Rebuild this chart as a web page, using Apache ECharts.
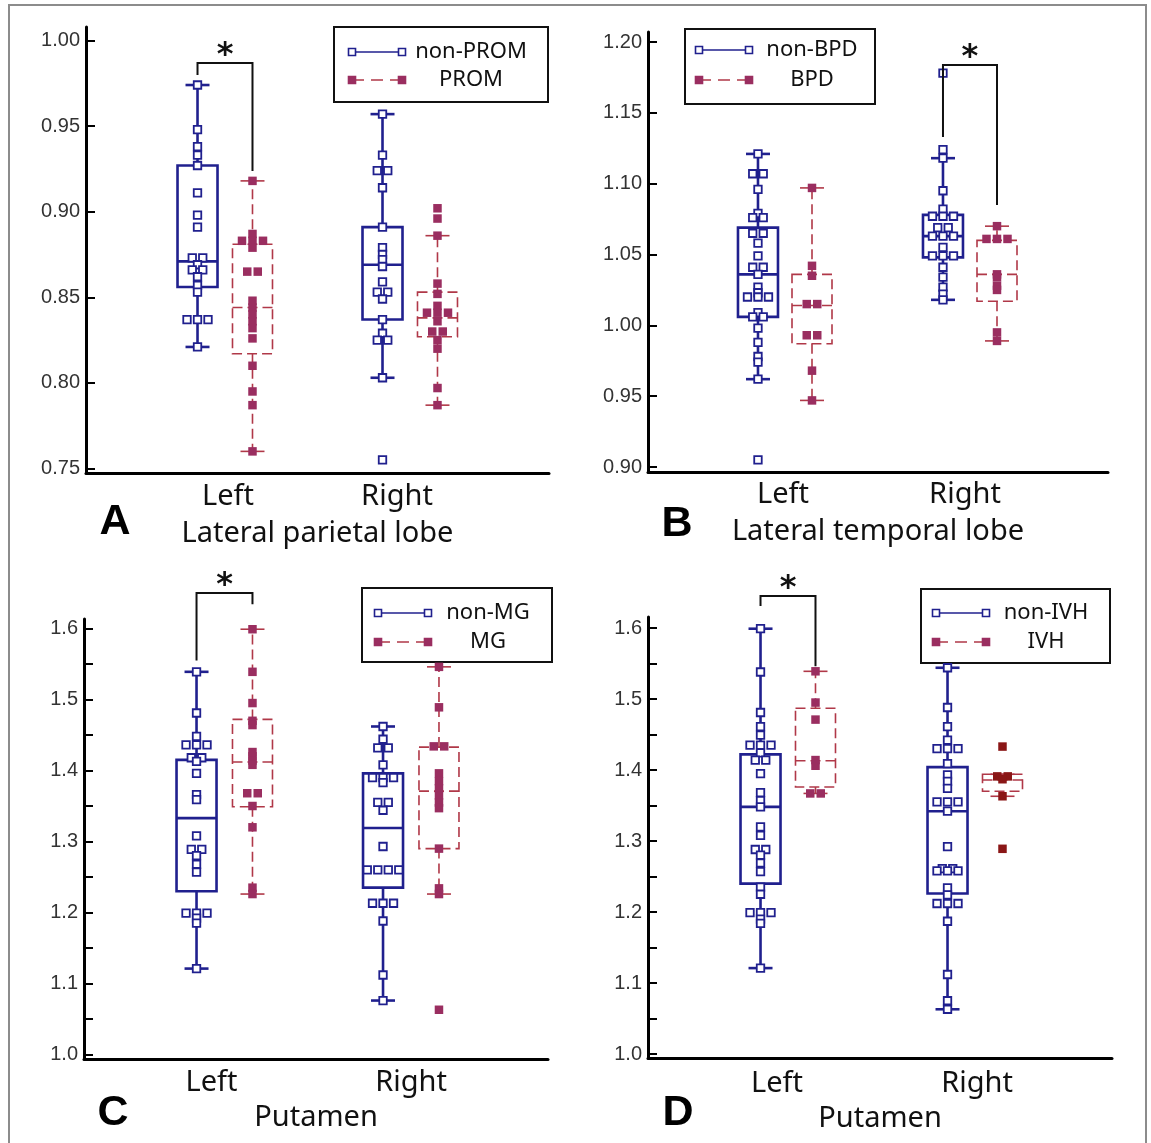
<!DOCTYPE html>
<html><head><meta charset="utf-8">
<script src="https://cdn.jsdelivr.net/npm/echarts@6/dist/echarts.min.js"></script>
<style>html,body{margin:0;padding:0;background:#fff}#chart{width:1151px;height:1143px}</style>
</head><body><div id="chart"></div>
<script>
// ---------------- DATA ----------------
const categories = ['Left', 'Right'];

// Panel A : Lateral parietal lobe
const A_names = ['non-PROM', 'PROM'];
const A_title = 'Lateral parietal lobe';
const A_yTicks = [0.75, 0.80, 0.85, 0.90, 0.95, 1.00];
const A_yMinor = [];
// box = [lower whisker, Q1, median, Q3, upper whisker]  for [Left, Right]
const A_box_non = [[0.821, 0.856, 0.871, 0.927, 0.974], [0.803, 0.837, 0.869, 0.891, 0.957]];
const A_box_grp = [[0.760, 0.817, 0.844, 0.881, 0.918], [0.787, 0.827, 0.838, 0.853, 0.886]];
const A_pts_non_L = [0.974, 0.948, 0.938, 0.933, 0.927, 0.911, 0.898, 0.891, 0.873, 0.873, 0.869, 0.866, 0.866, 0.862, 0.857, 0.853, 0.837, 0.837, 0.837, 0.821];
const A_pts_grp_L = [0.918, 0.887, 0.883, 0.883, 0.883, 0.879, 0.865, 0.865, 0.848, 0.844, 0.840, 0.836, 0.832, 0.826, 0.810, 0.795, 0.787, 0.760];
const A_pts_non_R = [0.957, 0.933, 0.924, 0.924, 0.914, 0.891, 0.879, 0.875, 0.872, 0.868, 0.859, 0.853, 0.853, 0.849, 0.837, 0.829, 0.825, 0.825, 0.803, 0.755];
const A_pts_grp_R = [0.902, 0.896, 0.886, 0.858, 0.852, 0.845, 0.841, 0.841, 0.841, 0.836, 0.830, 0.830, 0.825, 0.820, 0.797, 0.787];
// significance bracket: [category, top, left-leg bottom, right-leg bottom]
const A_sig = [1, 0.9869, 0.9799, 0.9238];

// Panel B : Lateral temporal lobe
const B_names = ['non-BPD', 'BPD'];
const B_title = 'Lateral temporal lobe';
const B_yTicks = [0.90, 0.95, 1.00, 1.05, 1.10, 1.15, 1.20];
const B_yMinor = [];
const B_box_non = [[0.962, 1.006, 1.036, 1.069, 1.121], [1.018, 1.048, 1.063, 1.078, 1.118]];
const B_box_grp = [[0.947, 0.987, 1.014, 1.036, 1.097], [0.989, 1.017, 1.036, 1.060, 1.070]];
const B_pts_non_L = [1.121, 1.107, 1.107, 1.096, 1.079, 1.076, 1.076, 1.065, 1.065, 1.058, 1.049, 1.041, 1.041, 1.036, 1.027, 1.023, 1.020, 1.020, 1.020, 1.009, 1.006, 1.006, 0.998, 0.988, 0.978, 0.974, 0.962, 0.905];
const B_pts_grp_L = [1.097, 1.042, 1.035, 1.015, 1.015, 0.993, 0.993, 0.968, 0.947];
const B_pts_non_R = [1.178, 1.124, 1.118, 1.095, 1.082, 1.077, 1.077, 1.077, 1.069, 1.069, 1.063, 1.063, 1.063, 1.055, 1.049, 1.049, 1.049, 1.041, 1.034, 1.027, 1.022, 1.018];
const B_pts_grp_R = [1.070, 1.061, 1.061, 1.061, 1.036, 1.034, 1.028, 1.025, 0.995, 0.989];
const B_sig = [2, 1.1838, 1.133, 1.085];

// Panel C : Putamen (MG)
const C_names = ['non-MG', 'MG'];
const C_title = 'Putamen';
const C_yTicks = [1.0, 1.1, 1.2, 1.3, 1.4, 1.5, 1.6];
const C_yMinor = [1.05, 1.15, 1.25, 1.35, 1.45, 1.55];
const C_box_non = [[1.121, 1.230, 1.333, 1.415, 1.539], [1.076, 1.235, 1.319, 1.396, 1.462]];
const C_box_grp = [[1.226, 1.349, 1.412, 1.472, 1.599], [1.226, 1.290, 1.371, 1.433, 1.546]];
const C_pts_non_L = [1.539, 1.481, 1.448, 1.436, 1.436, 1.436, 1.418, 1.418, 1.413, 1.396, 1.366, 1.359, 1.308, 1.289, 1.289, 1.280, 1.268, 1.257, 1.199, 1.199, 1.199, 1.192, 1.185, 1.121];
const C_pts_grp_L = [1.599, 1.539, 1.495, 1.470, 1.464, 1.426, 1.420, 1.414, 1.408, 1.368, 1.368, 1.350, 1.320, 1.235, 1.226];
const C_pts_non_R = [1.462, 1.444, 1.432, 1.432, 1.408, 1.390, 1.390, 1.390, 1.383, 1.355, 1.355, 1.344, 1.293, 1.260, 1.260, 1.260, 1.260, 1.213, 1.213, 1.213, 1.188, 1.112, 1.076];
const C_pts_grp_R = [1.546, 1.489, 1.434, 1.434, 1.396, 1.385, 1.375, 1.365, 1.355, 1.347, 1.290, 1.234, 1.226, 1.063];
const C_sig = [1, 1.650, 1.555, 1.634];

// Panel D : Putamen (IVH)
const D_names = ['non-IVH', 'IVH'];
const D_title = 'Putamen';
const D_yTicks = [1.0, 1.1, 1.2, 1.3, 1.4, 1.5, 1.6];
const D_yMinor = [1.05, 1.15, 1.25, 1.35, 1.45, 1.55];
const D_box_non = [[1.121, 1.240, 1.348, 1.422, 1.599], [1.063, 1.226, 1.342, 1.404, 1.544]];
const D_box_grp = [[1.367, 1.376, 1.413, 1.487, 1.539], [1.363, 1.370, 1.386, 1.394, 1.394]];
const D_pts_non_L = [1.599, 1.538, 1.481, 1.461, 1.449, 1.435, 1.435, 1.435, 1.424, 1.414, 1.414, 1.395, 1.368, 1.357, 1.348, 1.320, 1.308, 1.288, 1.288, 1.280, 1.269, 1.257, 1.235, 1.225, 1.199, 1.199, 1.199, 1.190, 1.184, 1.121];
const D_pts_grp_L = [1.539, 1.495, 1.471, 1.414, 1.406, 1.367, 1.367];
const D_pts_non_R = [1.544, 1.488, 1.461, 1.442, 1.430, 1.430, 1.430, 1.409, 1.393, 1.384, 1.374, 1.355, 1.355, 1.355, 1.342, 1.292, 1.261, 1.261, 1.258, 1.258, 1.258, 1.234, 1.224, 1.212, 1.212, 1.212, 1.187, 1.112, 1.075, 1.063];
const D_pts_grp_R = [1.433, 1.391, 1.391, 1.387, 1.363, 1.289];
const D_sig = [1, 1.645, 1.631, 1.546];

// ---------------- STYLE / LAYOUT ----------------
const BLUE = '#20208e';
const RED_PT = '#9a2e60';
const RED_LN = '#b03848';
const DARK_RED = '#8a1616';
const SPACING = 10.5;

const panels = [
  {letter: 'A', title: A_title, names: A_names, yTicks: A_yTicks, yMinor: A_yMinor, digits: 2,
   boxes: [A_box_non, A_box_grp], pts: [[A_pts_non_L, A_pts_non_R], [A_pts_grp_L, A_pts_grp_R]], sig: A_sig},
  {letter: 'B', title: B_title, names: B_names, yTicks: B_yTicks, yMinor: B_yMinor, digits: 2,
   boxes: [B_box_non, B_box_grp], pts: [[B_pts_non_L, B_pts_non_R], [B_pts_grp_L, B_pts_grp_R]], sig: B_sig},
  {letter: 'C', title: C_title, names: C_names, yTicks: C_yTicks, yMinor: C_yMinor, digits: 1,
   boxes: [C_box_non, C_box_grp], pts: [[C_pts_non_L, C_pts_non_R], [C_pts_grp_L, C_pts_grp_R]], sig: C_sig},
  {letter: 'D', title: D_title, names: D_names, yTicks: D_yTicks, yMinor: D_yMinor, digits: 1,
   boxes: [D_box_non, D_box_grp], pts: [[D_pts_non_L, D_pts_non_R], [D_pts_grp_L, D_pts_grp_R]], sig: D_sig,
   darkRight: true}
];

const layout = [
  {grid: {left: 86, top: 27, width: 463, height: 446}, x: [0.2486, 2.7514], y: [0.74737, 1.00789], off: 0.1486,
   legend: {box: [334, 27, 214, 75], lx: [352, 402], rows: [52, 80], tx: 471}, letter: [115, 522],
   labMargin: 9, nameGap: 46, labShift: [3, -13]},
  {grid: {left: 648, top: 32, width: 460, height: 440}, x: [0.2595, 2.746], y: [0.89647, 1.20706], off: 0.146,
   legend: {box: [685, 29, 190, 75], lx: [699, 749], rows: [50, 80], tx: 812}, letter: [677, 524],
   labMargin: 8, nameGap: 45, labShift: [-2, -5]},
  {grid: {left: 84, top: 619, width: 464, height: 440}, x: [0.2466, 2.7346], y: [0.99366, 1.6134], off: 0.150,
   legend: {box: [362, 588, 190, 74], lx: [378, 428], rows: [613, 642], tx: 488}, letter: [113, 1113],
   labMargin: 9, nameGap: 44, labShift: [-13, 0]},
  {grid: {left: 648, top: 617, width: 464, height: 441}, x: [0.2513, 2.7326], y: [0.99437, 1.6155], off: 0.147,
   legend: {box: [921, 589, 189, 74], lx: [936, 986], rows: [613, 642], tx: 1046}, letter: [678, 1113],
   labMargin: 11, nameGap: 46, labShift: [-11, 2]}
];

// ---------------- HELPERS ----------------
function swarmOffsets(vals) {
  const counts = {}, seen = {};
  vals.forEach(v => { counts[v] = (counts[v] || 0) + 1; });
  return vals.map(v => {
    const n = counts[v];
    const k = (seen[v] = (seen[v] || 0) + 1) - 1;
    return (k - (n - 1) / 2) * SPACING;
  });
}

function makeBoxRender(color, dashed, lw) {
  return function (params, api) {
    const x = api.value(0);
    const pLo = api.coord([x, api.value(1)]);
    const pQ1 = api.coord([x, api.value(2)]);
    const pMd = api.coord([x, api.value(3)]);
    const pQ3 = api.coord([x, api.value(4)]);
    const pHi = api.coord([x, api.value(5)]);
    const cx = pLo[0], hw = 20, cw = 12;
    const st = (dash) => ({stroke: color, lineWidth: lw, lineDash: dash ? [10, 5] : null, fill: null});
    const line = (x1, y1, x2, y2, dash) => ({type: 'line', shape: {x1, y1, x2, y2}, style: st(dash)});
    return {type: 'group', children: [
      {type: 'rect', shape: {x: cx - hw, y: pQ3[1], width: 2 * hw, height: pQ1[1] - pQ3[1]},
       style: Object.assign(st(dashed), {fill: 'rgba(0,0,0,0)'})},
      line(cx - hw, pMd[1], cx + hw, pMd[1], dashed),
      line(cx, pQ3[1], cx, pHi[1], dashed),
      line(cx, pQ1[1], cx, pLo[1], dashed),
      line(cx - cw, pHi[1], cx + cw, pHi[1], false),
      line(cx - cw, pLo[1], cx + cw, pLo[1], false)
    ]};
  };
}

function makeSigRender(off) {
  return function (params, api) {
    const c = api.value(0);
    const pTop = api.coord([c - off, api.value(1)]);
    const pL = api.coord([c - off, api.value(2)]);
    const pR = api.coord([c + off, api.value(3)]);
    const xL = pTop[0], xR = pR[0], yT = pTop[1];
    return {type: 'group', children: [
      {type: 'polyline', shape: {points: [[xL, pL[1]], [xL, yT], [xR, yT], [xR, pR[1]]]},
       style: {stroke: '#111', lineWidth: 2, fill: null}},
      {type: 'text', style: {text: '*', x: (xL + xR) / 2, y: yT - 7, align: 'center', verticalAlign: 'middle',
        textAlign: 'center', textVerticalAlign: 'middle', font: 'bold 32px "DejaVu Sans"', fill: '#111'}}
    ]};
  };
}

// ---------------- BUILD OPTION ----------------
const grids = [], xAxes = [], yAxes = [], series = [], graphics = [];

graphics.push({type: 'rect', z: 0, silent: true, shape: {x: 9, y: 5, width: 1137, height: 1160},
  style: {fill: null, stroke: '#8c8c8c', lineWidth: 2}});

panels.forEach((p, i) => {
  const L = layout[i];
  grids.push(L.grid);
  const rich = {};
  categories.forEach((cat, c) => {
    const s = L.labShift[c];
    rich['c' + c] = {fontSize: 29, color: '#111', fontFamily: 'Noto Sans',
      padding: [0, s < 0 ? -2 * s : 0, 0, s > 0 ? 2 * s : 0]};
  });
  xAxes.push({
    gridIndex: i, type: 'value', min: L.x[0], max: L.x[1],
    axisLine: {show: true, onZero: false, lineStyle: {color: '#000', width: 3}},
    axisTick: {show: false}, splitLine: {show: false},
    axisLabel: {customValues: [1, 2], formatter: v => {
        const c = Math.round(v) - 1;
        return categories[c] ? '{c' + c + '|' + categories[c] + '}' : '';
      },
      rich: rich, fontSize: 29, color: '#111', margin: L.labMargin, fontFamily: 'Noto Sans'},
    name: p.title, nameLocation: 'middle', nameGap: L.nameGap,
    nameTextStyle: {fontSize: 29, color: '#111', fontFamily: 'Noto Sans'}
  });
  yAxes.push({
    gridIndex: i, type: 'value', min: L.y[0], max: L.y[1],
    axisLine: {show: true, onZero: false, lineStyle: {color: '#000', width: 3}},
    axisTick: {show: true, inside: true, length: 9, lineStyle: {color: '#000', width: 2},
      customValues: p.yTicks.concat(p.yMinor)},
    axisLabel: {customValues: p.yTicks, formatter: v => v.toFixed(p.digits),
      fontSize: 20, color: '#333', margin: 6, fontFamily: 'Liberation Sans'},
    splitLine: {show: false}
  });

  [0, 1].forEach(g => {
    const sign = g === 0 ? -1 : 1;
    const boxData = p.boxes[g].map((b, c) => [c + 1 + sign * L.off].concat(b));
    series.push({
      type: 'custom', name: p.names[g], xAxisIndex: i, yAxisIndex: i, z: 2, clip: false,
      renderItem: makeBoxRender(g === 0 ? BLUE : RED_LN, g === 1, g === 0 ? 2.6 : 1.6),
      data: boxData, silent: true
    });
  });
  [0, 1].forEach(g => {
    const sign = g === 0 ? -1 : 1;
    const data = [];
    p.pts[g].forEach((vals, c) => {
      const offs = swarmOffsets(vals);
      vals.forEach((v, k) => {
        const item = {value: [c + 1 + sign * L.off, v], symbolOffset: [offs[k], 0]};
        if (g === 1 && c === 1 && p.darkRight) item.itemStyle = {color: DARK_RED};
        data.push(item);
      });
    });
    series.push({
      type: 'scatter', name: p.names[g], xAxisIndex: i, yAxisIndex: i, z: 3, clip: false,
      symbol: 'rect', symbolSize: g === 0 ? 7.5 : 8.5,
      itemStyle: g === 0 ? {color: '#fff', borderColor: BLUE, borderWidth: 1.8, opacity: 1}
                         : {color: RED_PT, opacity: 1},
      data: data, silent: true
    });
  });
  series.push({
    type: 'custom', name: 'sig-' + p.letter, xAxisIndex: i, yAxisIndex: i, z: 4, clip: false,
    renderItem: makeSigRender(L.off), data: [p.sig], silent: true
  });

  // panel letter
  graphics.push({type: 'text', z: 50, style: {text: p.letter, x: L.letter[0], y: L.letter[1],
    align: 'center', verticalAlign: 'middle', textAlign: 'center', textVerticalAlign: 'middle',
    font: 'bold 43px "Liberation Sans"', fill: '#000'}});

  // legend box
  const lg = L.legend, [bx, by, bw, bh] = lg.box;
  const sq = (x, y, filled, col) => ({type: 'rect', shape: {x: x - 3.5, y: y - 3.5, width: 7, height: 7},
    style: {fill: filled ? col : '#fff', stroke: col, lineWidth: 1.6}});
  const txt = (t, y) => ({type: 'text', style: {text: t, x: lg.tx, y: y, align: 'center', verticalAlign: 'middle',
    textAlign: 'center', textVerticalAlign: 'middle', font: '22px "Noto Sans"', fill: '#111'}});
  graphics.push({type: 'group', z: 100, children: [
    {type: 'rect', shape: {x: bx, y: by, width: bw, height: bh}, style: {fill: '#fff', stroke: '#111', lineWidth: 2}},
    {type: 'line', shape: {x1: lg.lx[0], y1: lg.rows[0], x2: lg.lx[1], y2: lg.rows[0]}, style: {stroke: BLUE, lineWidth: 1.6}},
    sq(lg.lx[0], lg.rows[0], false, BLUE), sq(lg.lx[1], lg.rows[0], false, BLUE),
    txt(p.names[0], lg.rows[0]),
    {type: 'line', shape: {x1: lg.lx[0], y1: lg.rows[1], x2: lg.lx[1], y2: lg.rows[1]}, style: {stroke: RED_LN, lineWidth: 1.6, lineDash: [12, 7]}},
    sq(lg.lx[0], lg.rows[1], true, RED_PT), sq(lg.lx[1], lg.rows[1], true, RED_PT),
    txt(p.names[1], lg.rows[1])
  ]});
});

const chart = echarts.init(document.getElementById('chart'), null, {renderer: 'canvas'});
chart.setOption({
  animation: false,
  backgroundColor: '#fff',
  grid: grids, xAxis: xAxes, yAxis: yAxes, series: series, graphic: graphics
});
</script></body></html>
